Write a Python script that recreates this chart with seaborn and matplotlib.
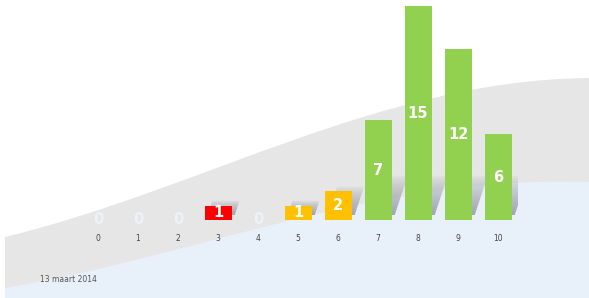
import numpy as np
import pandas as pd
import matplotlib
matplotlib.use("Agg")
import matplotlib.pyplot as plt
from matplotlib.path import Path
from matplotlib.patches import PathPatch, Polygon
import seaborn as sns

# data
scores = ["0", "1", "2", "3", "4", "5", "6", "7", "8", "9", "10"]
counts = [0, 0, 0, 1, 0, 1, 2, 7, 15, 12, 6]
bar_colors = ["#FF0000", "#FF0000", "#FF0000", "#FF0000", "#FF0000",
              "#FFC000", "#FFC000", "#92D050", "#92D050", "#92D050", "#92D050"]
date_text = "13 maart 2014"

data = pd.DataFrame({"score": scores, "count": counts})

sns.set_style("white")
W, H = 589, 298
fig = plt.figure(figsize=(W / 100, H / 100), dpi=100)

# background waves (pixel coords)
bg = fig.add_axes([0, 0, 1, 1])
bg.set_xlim(0, W)
bg.set_ylim(H, 0)
bg.axis("off")
grey = Path([(5, 237), (200, 190), (380, 80), (589, 78), (589, 298), (5, 298), (5, 237)],
            [Path.MOVETO, Path.CURVE4, Path.CURVE4, Path.CURVE4, Path.LINETO, Path.LINETO, Path.CLOSEPOLY])
bg.add_patch(PathPatch(grey, facecolor="#E6E6E6", edgecolor="none"))
blue = Path([(5, 288), (200, 255), (380, 175), (589, 182), (589, 298), (5, 298), (5, 288)],
            [Path.MOVETO, Path.CURVE4, Path.CURVE4, Path.CURVE4, Path.LINETO, Path.LINETO, Path.CLOSEPOLY])
bg.add_patch(PathPatch(blue, facecolor="#E8F0F9", edgecolor="none"))
bg.text(40, 280, date_text, fontsize=5.5, color="#555555", va="center", ha="left")

# bar chart
ax = fig.add_axes([78 / W, 78 / H, 440 / W, 214 / H])
ax.patch.set_alpha(0)

sns.barplot(data=data, x="score", y="count", hue="score", palette=bar_colors,
            legend=False, width=0.675, ax=ax, zorder=3, saturation=1,
            linewidth=0, edgecolor="none")

# soft skewed shadows behind the bars
grad = np.zeros((64, 2, 4))
grad[..., :3] = np.array([0x70, 0x76, 0x80]) / 255
grad[..., 3] = 0.6 * np.linspace(1.0, 0.0, 64)[:, None] ** 0.7
for i, v in enumerate(counts):
    if v == 0:
        continue
    h = min(v, 2.8)
    b = 0.35
    left, right = i - 0.3375 + 0.08, i + 0.3375 + 0.08
    skew = 0.33 * h / 2.8
    poly = Polygon([(left, b), (right, b), (right + skew, b + h), (left + skew, b + h)],
                   closed=True, facecolor="none", edgecolor="none")
    ax.add_patch(poly)
    im = ax.imshow(grad, extent=(left, right + skew, b, b + h), origin="lower",
                   aspect="auto", zorder=2, interpolation="bilinear")
    im.set_clip_path(poly)

for container in ax.containers:
    labels = ax.bar_label(container, label_type="center", color="white",
                          fontsize=10.5, fontweight="bold")
    for t in labels:
        if t.get_text() == "0":
            t.set_color("#EDF2F8")

ax.set_xlim(-0.5, 10.5)
ax.set_ylim(0, 15)
ax.set_xlabel("")
ax.set_ylabel("")
ax.set_yticks([])
ax.tick_params(axis="x", length=0, pad=10, labelsize=5.5, labelcolor="#444444")
sns.despine(ax=ax, left=True, bottom=True)

fig.savefig("out.png", dpi=100)
